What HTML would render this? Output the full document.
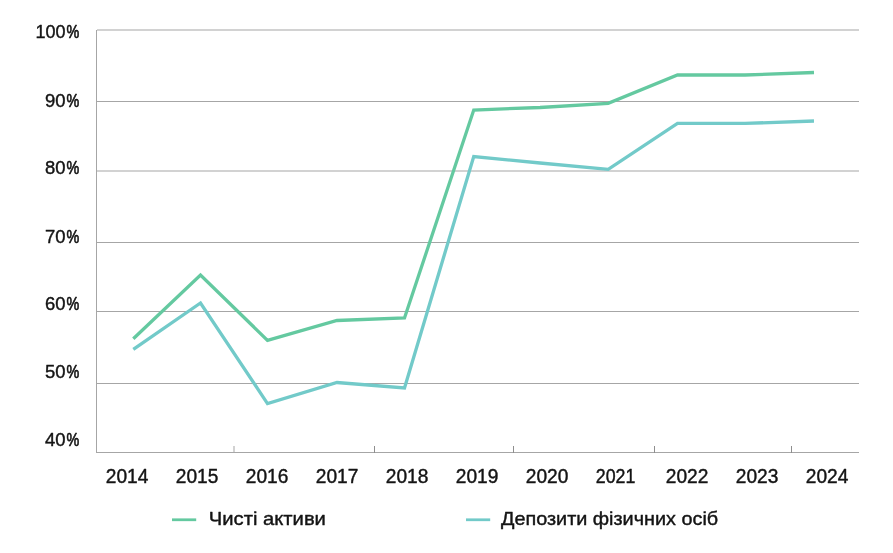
<!DOCTYPE html>
<html>
<head>
<meta charset="utf-8">
<title>Chart</title>
<style>
html,body{margin:0;padding:0;background:#fff;}
body{width:893px;height:553px;overflow:hidden;font-family:"Liberation Sans",sans-serif;}
svg{display:block;will-change:transform;}
text{font-family:"Liberation Sans",sans-serif;fill:#141414;stroke:#141414;stroke-width:0.42px;stroke-linejoin:round;}
</style>
</head>
<body>
<svg width="893" height="553" viewBox="0 0 893 553">
<rect x="0" y="0" width="893" height="553" fill="#ffffff"/>
<g fill="none" shape-rendering="crispEdges">
<line x1="97" y1="30" x2="859" y2="30" stroke="#d2d2d2" stroke-width="2"/>
<line x1="97" y1="171" x2="859" y2="171" stroke="#d2d2d2" stroke-width="2"/>
<line x1="96" y1="101.5" x2="859" y2="101.5" stroke="#a6a6a6" stroke-width="1"/>
<line x1="96" y1="242.5" x2="859" y2="242.5" stroke="#a6a6a6" stroke-width="1"/>
<line x1="96" y1="311.5" x2="859" y2="311.5" stroke="#a6a6a6" stroke-width="1"/>
<line x1="96" y1="383.5" x2="859" y2="383.5" stroke="#a6a6a6" stroke-width="1"/>
<line x1="96" y1="452.5" x2="859" y2="452.5" stroke="#a6a6a6" stroke-width="1"/>
<line x1="96.5" y1="30" x2="96.5" y2="453" stroke="#a6a6a6" stroke-width="1"/>
<line x1="234" y1="446" x2="234" y2="452" stroke="#d2d2d2" stroke-width="2"/>
<line x1="374.5" y1="446" x2="374.5" y2="453" stroke="#8e8e8e" stroke-width="1"/>
<line x1="513.5" y1="446" x2="513.5" y2="453" stroke="#8e8e8e" stroke-width="1"/>
<line x1="654.5" y1="446" x2="654.5" y2="453" stroke="#8e8e8e" stroke-width="1"/>
<line x1="791.5" y1="446" x2="791.5" y2="453" stroke="#8e8e8e" stroke-width="1"/>
</g>
<polyline fill="none" stroke="#72cac9" stroke-width="3.3" stroke-linejoin="miter" points="133.3,349.4 200.5,303 267.5,403.6 337,382.5 404.5,388 473.75,156.5 540,163 608.2,169.3 677.5,123.4 745,123.4 814,121"/>
<polyline fill="none" stroke="#64c9a0" stroke-width="3.3" stroke-linejoin="miter" points="133.3,338.7 200.5,275 267.5,340.4 337,320.5 404.5,318 473.75,110 540,107.5 608.2,103.3 677.5,75 745,75 814,72.5"/>
<text transform="translate(35.50,38.00) scale(0.9486,1)" font-size="19.0">100</text>
<text transform="translate(66.50,38.00) scale(0.7569,1)" font-size="19.0" style="stroke-width:0.7px">%</text>
<text transform="translate(45.10,107.00) scale(0.9720,1)" font-size="19.0">90</text>
<text transform="translate(66.50,107.00) scale(0.7569,1)" font-size="19.0" style="stroke-width:0.7px">%</text>
<text transform="translate(45.10,174.00) scale(0.9720,1)" font-size="19.0">80</text>
<text transform="translate(66.50,174.00) scale(0.7569,1)" font-size="19.0" style="stroke-width:0.7px">%</text>
<text transform="translate(45.10,243.00) scale(0.9720,1)" font-size="19.0">70</text>
<text transform="translate(66.50,243.00) scale(0.7569,1)" font-size="19.0" style="stroke-width:0.7px">%</text>
<text transform="translate(45.10,310.00) scale(0.9720,1)" font-size="19.0">60</text>
<text transform="translate(66.50,310.00) scale(0.7569,1)" font-size="19.0" style="stroke-width:0.7px">%</text>
<text transform="translate(45.10,378.00) scale(0.9720,1)" font-size="19.0">50</text>
<text transform="translate(66.50,378.00) scale(0.7569,1)" font-size="19.0" style="stroke-width:0.7px">%</text>
<text transform="translate(45.10,446.00) scale(0.9720,1)" font-size="19.0">40</text>
<text transform="translate(66.50,446.00) scale(0.7569,1)" font-size="19.0" style="stroke-width:0.7px">%</text>
<text transform="translate(105.80,483.00) scale(0.9920,1)" font-size="19.3">2014</text>
<text transform="translate(175.80,483.00) scale(0.9920,1)" font-size="19.3">2015</text>
<text transform="translate(245.80,483.00) scale(0.9920,1)" font-size="19.3">2016</text>
<text transform="translate(315.80,483.00) scale(0.9920,1)" font-size="19.3">2017</text>
<text transform="translate(385.80,483.00) scale(0.9920,1)" font-size="19.3">2018</text>
<text transform="translate(455.80,483.00) scale(0.9920,1)" font-size="19.3">2019</text>
<text transform="translate(525.80,483.00) scale(0.9920,1)" font-size="19.3">2020</text>
<text transform="translate(595.80,483.00) scale(0.9222,1)" font-size="19.3">2021</text>
<text transform="translate(665.80,483.00) scale(0.9920,1)" font-size="19.3">2022</text>
<text transform="translate(735.80,483.00) scale(0.9920,1)" font-size="19.3">2023</text>
<text transform="translate(805.80,483.00) scale(0.9920,1)" font-size="19.3">2024</text>
<rect x="172" y="518.4" width="24.2" height="2.75" fill="#64c9a0"/>
<text transform="translate(208.80,525.00) scale(1.0644,1)" font-size="19.0">Чисті активи</text>
<rect x="466" y="518.4" width="24.2" height="2.75" fill="#72cac9"/>
<text transform="translate(501.00,525.00) scale(1.0445,1)" font-size="19.0">Депозити фізичних осіб</text>
</svg>
</body>
</html>
